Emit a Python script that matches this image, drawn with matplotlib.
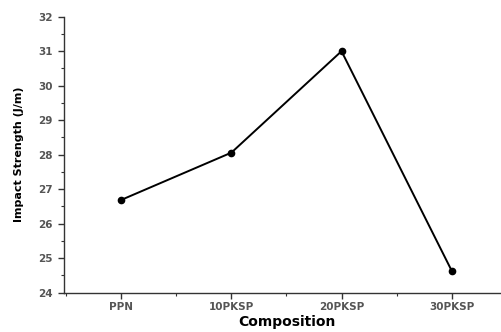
import matplotlib
matplotlib.use("Agg")
import matplotlib.pyplot as plt
from matplotlib.ticker import MultipleLocator

# impact strength for each composition
compositions = ["PPN", "10PKSP", "20PKSP", "30PKSP"]
impact_strength = [26.69, 28.06, 31.0, 24.64]

fig = plt.figure(figsize=(5.01, 3.32), dpi=100)
ax = fig.add_axes([64 / 501, 1 - 292.7 / 332, (510 - 64) / 501, (292.7 - 16.7) / 332])

xs = list(range(len(compositions)))
ax.plot(xs, impact_strength, "-o", color="black", lw=1.4, ms=4.5)

ax.set_xlim(-0.52, 3.53)
ax.set_ylim(24, 32)
ax.set_xticks(xs)
ax.set_xticklabels(compositions)
ax.xaxis.set_minor_locator(MultipleLocator(0.5))
ax.yaxis.set_major_locator(MultipleLocator(1))
ax.yaxis.set_minor_locator(MultipleLocator(0.5))

for side in ("top", "right"):
    ax.spines[side].set_visible(False)
for side in ("left", "bottom"):
    ax.spines[side].set_color("#333333")
    ax.spines[side].set_linewidth(1.0)

ax.tick_params(which="major", direction="out", length=4, width=1.0,
               color="#333333", labelsize=7.5, labelcolor="#555555")
ax.tick_params(which="minor", direction="out", length=2.5, width=0.8, color="#333333")
ax.tick_params(axis="x", pad=3)
ax.tick_params(axis="y", pad=4)
for lbl in ax.get_xticklabels() + ax.get_yticklabels():
    lbl.set_fontweight("bold")

ax.set_xlabel("Composition", fontsize=10, fontweight="bold", labelpad=2)
ax.set_ylabel("Impact Strength (J/m)", fontsize=8, fontweight="bold", labelpad=10)

fig.savefig("out.png", dpi=100)
